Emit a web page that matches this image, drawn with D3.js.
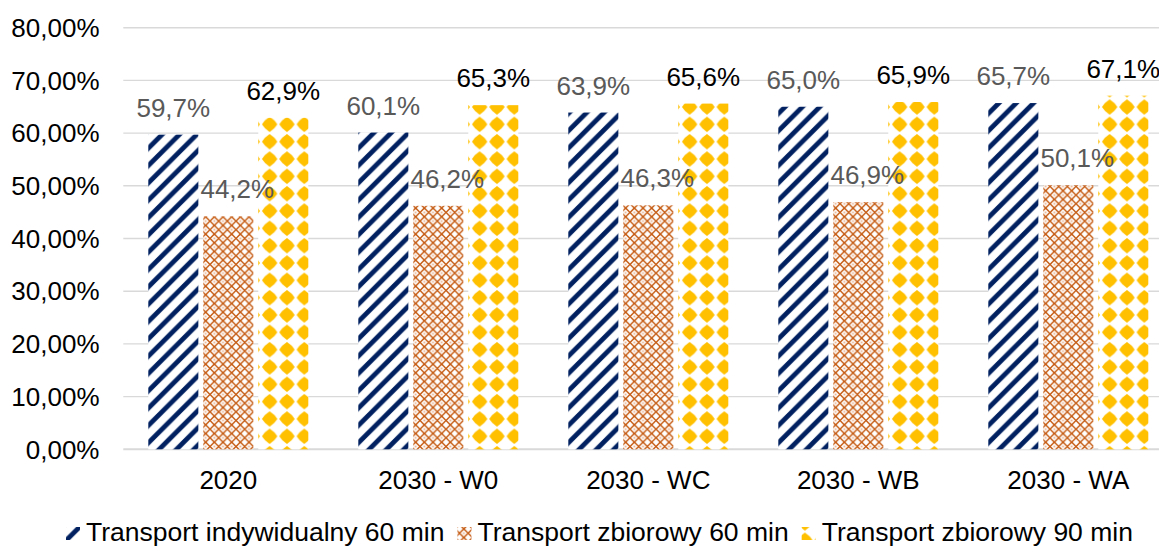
<!DOCTYPE html>
<html><head><meta charset="utf-8">
<script src="https://cdn.jsdelivr.net/npm/d3@7"></script>
<style>
html,body{margin:0;padding:0;background:#fff;}
svg{display:block;font-family:"Liberation Sans",Arial,sans-serif;}
</style></head>
<body>
<svg id="chart" width="1159" height="546"></svg>
<script>
const categories = ["2020", "2030 - W0", "2030 - WC", "2030 - WB", "2030 - WA"];
const seriesNames = ["Transport indywidualny 60 min", "Transport zbiorowy 60 min", "Transport zbiorowy 90 min"];
const indywidualny60 = [59.7, 60.1, 63.9, 65.0, 65.7];
const zbiorowy60 = [44.2, 46.2, 46.3, 46.9, 50.1];
const zbiorowy90 = [62.9, 65.3, 65.6, 65.9, 67.1];
const yTicks = [0, 10, 20, 30, 40, 50, 60, 70, 80];

const series = [indywidualny60, zbiorowy60, zbiorowy90];
const svg = d3.select("#chart");
const W = 1159, H = 546;
const plot = {left: 123.3, right: 1173.3, top: 27.7, bottom: 449.3};

const x0 = d3.scaleBand().domain(categories).range([plot.left, plot.right]).paddingInner(0).paddingOuter(0);
const x1 = d3.scaleBand().domain([0,1,2]).range([25, 185]).paddingInner(0.09).paddingOuter(0);
const y = d3.scaleLinear().domain([0, 80]).range([plot.bottom, plot.top]);

// patterns
const defs = svg.append("defs");
const P = 17.33;
// stripes (wide upward diagonal)
const ps = defs.append("pattern").attr("id","pStripe").attr("patternUnits","userSpaceOnUse")
  .attr("width",P).attr("height",P).attr("x",0).attr("y",0);
ps.append("rect").attr("width",P).attr("height",P).attr("fill","#fff");
ps.append("path").attr("d",`M${-P},${P} L${P},${-P} M0,${2*P} L${2*P},0 M${-P},${2*P} L${2*P},${-P}`)
  .attr("stroke","#002060").attr("stroke-width",4.8).attr("fill","none");
// orange small lattice
const Q = 8.67;
const po = defs.append("pattern").attr("id","pCheck").attr("patternUnits","userSpaceOnUse")
  .attr("width",Q).attr("height",Q).attr("x",0).attr("y",0);
po.append("rect").attr("width",Q).attr("height",Q).attr("fill","#fff");
po.append("path").attr("d",`M${Q/2},0 L${Q},${Q/2} L${Q/2},${Q} L0,${Q/2} Z`)
  .attr("stroke","#C55A11").attr("stroke-width",1.5).attr("fill","none");
po.append("rect").attr("x",Q/2-0.9).attr("y",Q/2-0.9).attr("width",1.8).attr("height",1.8).attr("fill","#E8B08A");
// gold rounded diamonds
const pg = defs.append("pattern").attr("id","pDiamond").attr("patternUnits","userSpaceOnUse")
  .attr("width",P).attr("height",P).attr("x",259 % P).attr("y",393 % P);
pg.append("rect").attr("width",P).attr("height",P).attr("fill","#fff");
const c = P/2, r = 7.7, b = r*0.62;
pg.append("path").attr("d",`M${c},${c-r} Q${c+b},${c-b} ${c+r},${c} Q${c+b},${c+b} ${c},${c+r} Q${c-b},${c+b} ${c-r},${c} Q${c-b},${c-b} ${c},${c-r} Z`)
  .attr("fill","#FFC000");
const fills = ["url(#pStripe)","url(#pCheck)","url(#pDiamond)"];
const labelColors = ["#595959","#595959","#000"];
const labelDx = [0, 9, 0];

// gridlines
svg.append("g").selectAll("line").data(yTicks).join("line")
  .attr("x1", plot.left).attr("x2", W).attr("y1", d=>y(d)).attr("y2", d=>y(d))
  .attr("stroke","#D9D9D9").attr("stroke-width",d=>d===0?2:1.4);

// y tick labels
const fmtTick = d => d.toFixed(2).replace(".", ",") + "%";
svg.append("g").selectAll("text").data(yTicks).join("text")
  .attr("x", 99.5).attr("y", d=>y(d)+9.2).attr("text-anchor","end")
  .attr("font-size",26).attr("fill","#000").text(fmtTick);

// bars
const groups = svg.append("g").selectAll("g").data(categories).join("g")
  .attr("transform", d=>`translate(${x0(d)},0)`);
groups.selectAll("rect").data((d,i)=>series.map((s,k)=>({k, v:s[i]}))).join("rect")
  .attr("x", d=>x1(d.k)).attr("width", x1.bandwidth())
  .attr("y", d=>y(d.v)).attr("height", d=>y(0)-y(d.v))
  .attr("fill", d=>fills[d.k]);

// data labels
const fmtVal = v => v.toFixed(1).replace(".", ",") + "%";
groups.selectAll("text").data((d,i)=>series.map((s,k)=>({k, v:s[i]}))).join("text")
  .attr("x", d=>x1(d.k)+x1.bandwidth()/2+labelDx[d.k]).attr("y", d=>y(d.v)-18)
  .attr("text-anchor","middle").attr("font-size",26)
  .attr("fill", d=>labelColors[d.k]).text(d=>fmtVal(d.v));

// category labels
svg.append("g").selectAll("text").data(categories).join("text")
  .attr("x", d=>x0(d)+x0.bandwidth()/2).attr("y", 489.3).attr("text-anchor","middle")
  .attr("font-size",26).attr("fill","#000").text(d=>d);

// legend
const leg = svg.append("g");
let lx = 66;
const ly = 540.5;
seriesNames.forEach((name,k)=>{
  leg.append("rect").attr("x",lx).attr("y",ly-13.5).attr("width",14).attr("height",13).attr("fill",fills[k]);
  const t = leg.append("text").attr("x",lx+20).attr("y",ly).attr("font-size",26.5).attr("fill","#000").text(name);
  lx = lx + 20 + t.node().getComputedTextLength() + 13;
});
</script>
</body></html>
